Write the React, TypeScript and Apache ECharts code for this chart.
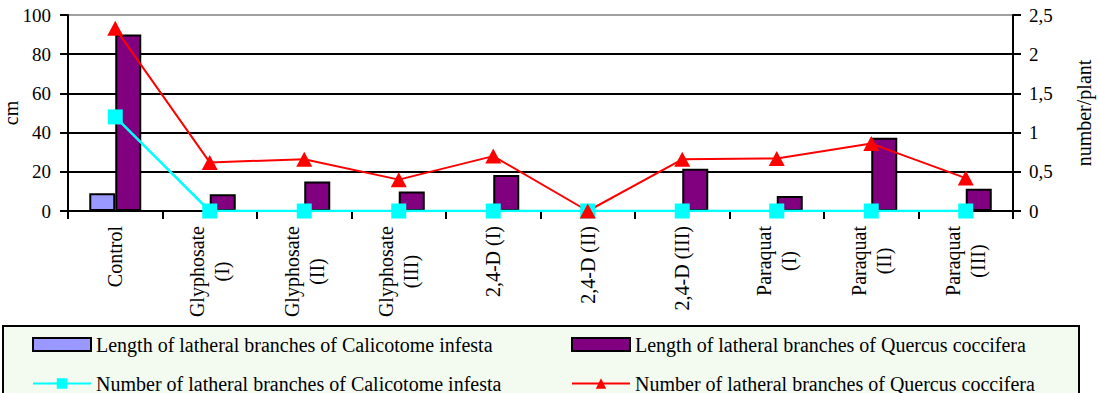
import React, { useEffect, useRef } from "react";
import * as echarts from "echarts";

// Treatments along the x axis
const categories = [
  "Control",
  "Glyphosate\n(I)",
  "Glyphosate\n(II)",
  "Glyphosate\n(III)",
  "2,4-D (I)",
  "2,4-D (II)",
  "2,4-D (III)",
  "Paraquat\n(I)",
  "Paraquat\n(II)",
  "Paraquat\n(III)",
];

// Length of lateral branches, cm (left axis)
const lengthCalicotome = [9, 0, 0, 0, 0, 0, 0, 0, 0, 0];
const lengthQuercus = [90, 8.5, 15, 10, 18.4, 0, 21.6, 7.7, 37.4, 11.4];

// Number of lateral branches per plant (right axis)
const numberCalicotome = [1.2, 0, 0, 0, 0, 0, 0, 0, 0, 0];
const numberQuercus = [2.33, 0.62, 0.66, 0.4, 0.7, 0, 0.66, 0.67, 0.86, 0.42];

const seriesNames = [
  "Length of latheral branches of Calicotome infesta",
  "Length of latheral branches of Quercus coccifera",
  "Number of latheral branches of Calicotome infesta",
  "Number of latheral branches of Quercus coccifera",
];

const FONT = "'Liberation Serif', 'Times New Roman', serif";

export default function App() {
  const ref = useRef<HTMLDivElement>(null);

  useEffect(() => {
    if (!ref.current) return;
    const chart = echarts.init(ref.current, undefined, { renderer: "svg" });

    const legendText = { fontSize: 20, lineHeight: 18, fontFamily: FONT, color: "#000" };
    const legendBase = {
      orient: "horizontal" as const,
      padding: 0,
      itemWidth: 58,
      itemHeight: 13,
      textStyle: legendText,
    };

    chart.setOption({
      animation: false,
      backgroundColor: "#fff",
      textStyle: { fontFamily: FONT },
      grid: {
        left: 68,
        right: 87,
        top: 15,
        bottom: 182,
        containLabel: false,
        outerBoundsMode: "none",
      },
      graphic: [
        {
          type: "rect",
          z: -1,
          shape: { x: 3, y: 326, width: 1076, height: 80 },
          style: { fill: "#f3fbf1", stroke: "#000", lineWidth: 2 },
        },
      ],
      legend: [
        { ...legendBase, data: [seriesNames[0]], icon: "rect", left: 32, top: 334.5 },
        { ...legendBase, data: [seriesNames[1]], icon: "rect", left: 571, top: 334.5 },
        { ...legendBase, data: [seriesNames[2]], left: 32, top: 373.5 },
        { ...legendBase, data: [seriesNames[3]], left: 571, top: 373.5 },
      ],
      xAxis: {
        type: "category",
        data: categories,
        axisLine: { lineStyle: { color: "#000", width: 2 } },
        axisTick: { show: true, length: 8, interval: 0, lineStyle: { color: "#000", width: 2 } },
        axisLabel: {
          interval: 0,
          rotate: 90,
          margin: 15,
          fontSize: 20,
          fontFamily: FONT,
          color: "#000",
          formatter: (v: string) =>
            v.includes("\n")
              ? v
                  .split("\n")
                  .map((l) => `{c|${l}}`)
                  .join("\n")
              : v,
          rich: {
            c: {
              align: "center",
              fontSize: 20,
              lineHeight: 25,
              fontFamily: FONT,
              color: "#000",
            },
          },
        },
      },
      yAxis: [
        {
          type: "value",
          min: 0,
          max: 100,
          interval: 20,
          name: "cm",
          nameLocation: "middle",
          nameGap: 47,
          nameMoveOverlap: false,
          nameTextStyle: { fontSize: 20, fontFamily: FONT, color: "#000" },
          axisLine: { show: true, lineStyle: { color: "#000", width: 2 } },
          axisTick: { show: true, length: 8, lineStyle: { color: "#000", width: 2 } },
          axisLabel: { fontSize: 19, fontFamily: FONT, color: "#000", margin: 17 },
          splitLine: {
            show: true,
            lineStyle: {
              color: ["#000", "#000", "#000", "#000", "#000", "#a0a0a0"],
              width: 2,
            },
          },
        },
        {
          type: "value",
          min: 0,
          max: 2.5,
          interval: 0.5,
          position: "right",
          name: "number/plant",
          nameLocation: "middle",
          nameGap: 61,
          nameMoveOverlap: false,
          nameTextStyle: { fontSize: 20, fontFamily: FONT, color: "#000" },
          axisLine: { show: true, lineStyle: { color: "#000", width: 2 } },
          axisTick: { show: true, length: 8, lineStyle: { color: "#000", width: 2 } },
          axisLabel: {
            fontSize: 19,
            fontFamily: FONT,
            color: "#000",
            margin: 16,
            formatter: (v: number) => String(v).replace(".", ","),
          },
          splitLine: { show: false },
        },
      ],
      series: [
        {
          name: seriesNames[0],
          type: "bar",
          yAxisIndex: 0,
          data: lengthCalicotome,
          barWidth: 26,
          barGap: "0%",
          itemStyle: { color: "#9999ff", borderColor: "#000", borderWidth: 2 },
        },
        {
          name: seriesNames[1],
          type: "bar",
          yAxisIndex: 0,
          data: lengthQuercus,
          barWidth: 26,
          barGap: "0%",
          itemStyle: { color: "#800080", borderColor: "#000", borderWidth: 2 },
        },
        {
          name: seriesNames[2],
          type: "line",
          yAxisIndex: 1,
          data: numberCalicotome,
          symbol: "rect",
          symbolSize: 15,
          lineStyle: { color: "#00ffff", width: 2.5 },
          itemStyle: { color: "#00ffff" },
        },
        {
          name: seriesNames[3],
          type: "line",
          yAxisIndex: 1,
          data: numberQuercus,
          symbol: "triangle",
          symbolSize: [16, 15],
          lineStyle: { color: "#ff0000", width: 2 },
          itemStyle: { color: "#ff0000" },
        },
      ],
    });

    return () => chart.dispose();
  }, []);

  return (
    <div
      ref={ref}
      style={{ position: "absolute", left: 0, top: 0, width: 1100, height: 393 }}
    />
  );
}
